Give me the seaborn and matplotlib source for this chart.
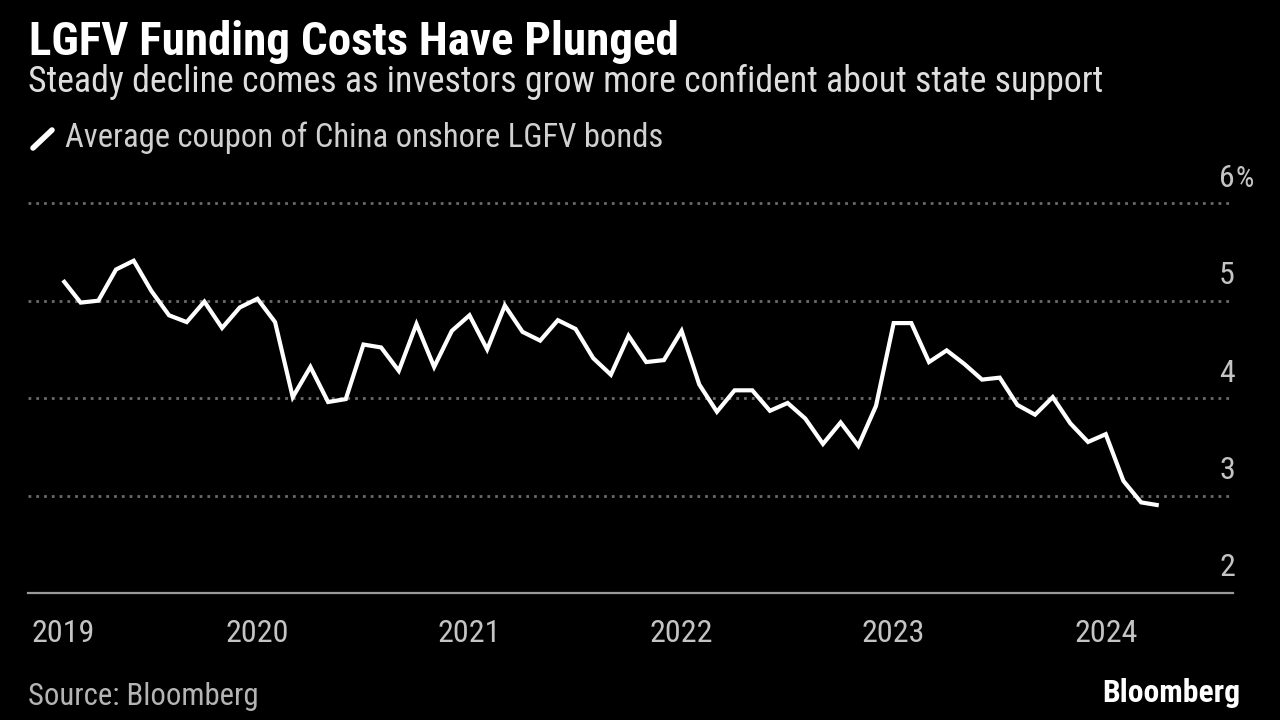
import numpy as np
import pandas as pd
import matplotlib
matplotlib.use("Agg")
import matplotlib.pyplot as plt
import matplotlib.transforms as mtransforms
from matplotlib import font_manager
import seaborn as sns

# ---------------- data ----------------
months = pd.date_range("2019-02-01", periods=63, freq="MS")
coupon = [5.21, 4.98, 5.00, 5.32, 5.41, 5.10, 4.85, 4.78, 4.99, 4.72, 4.93,
          5.02, 4.78, 4.01, 4.32, 3.96, 3.99, 4.55, 4.52, 4.28, 4.76, 4.32, 4.69,
          4.85, 4.50, 4.95, 4.68, 4.59, 4.80, 4.71, 4.41, 4.24, 4.64, 4.37, 4.39, 4.69,
          4.14, 3.86, 4.08, 4.08, 3.87, 3.95, 3.79, 3.53, 3.75, 3.51, 3.92, 4.77,
          4.77, 4.37, 4.49, 4.35, 4.19, 4.21, 3.93, 3.83, 4.01, 3.74, 3.55, 3.63,
          3.15, 2.93, 2.90]
year_labels = ["2019", "2020", "2021", "2022", "2023", "2024"]
y_ticks = [2, 3, 4, 5, 6]
y_tick_labels = ["2", "3", "4", "5", "6"]

title = "LGFV Funding Costs Have Plunged"
subtitle = "Steady decline comes as investors grow more confident about state support"
legend_label = "Average coupon of China onshore LGFV bonds"
source = "Source: Bloomberg"
brand = "Bloomberg"

# ---------------- style ----------------
sns.set_theme(style="dark")
avail = {f.name for f in font_manager.fontManager.ttflist}
narrow = next((f for f in ["Liberation Sans Narrow", "Roboto Condensed",
                           "Open Sans Condensed", "Noto Sans", "Roboto"] if f in avail),
              "DejaVu Sans")
plt.rcParams["font.family"] = [narrow, "DejaVu Sans"]

W, H = 1280, 720
fig = plt.figure(figsize=(W / 100, H / 100), dpi=100, facecolor="black")


def fx(px):
    return px / W


def fy(py):
    return 1 - py / H


ax_left, ax_right, ax_top, ax_bottom = 28, 1233, 174, 593
ax = fig.add_axes([fx(ax_left), fy(ax_bottom), fx(ax_right - ax_left), (ax_bottom - ax_top) / H])
ax.set_facecolor("black")

df = pd.DataFrame({"pos": np.arange(len(coupon)), "coupon": coupon, "month": months})
sns.lineplot(data=df, x="pos", y="coupon", color="white", linewidth=3.0, ax=ax,
             solid_joinstyle="miter", solid_capstyle="butt", zorder=5)

ax.set_xlim(-1.98, 66.2)
ax.set_ylim(2, 6.3)
ax.set_xlabel("")
ax.set_ylabel("")

for s in ["left", "right", "top"]:
    ax.spines[s].set_visible(False)
ax.spines["bottom"].set_color("#9a9a9a")
ax.spines["bottom"].set_linewidth(1.6)
ax.grid(False)

# gridlines
for v in y_ticks[1:]:
    ax.axhline(v, color="#6a6a6a", linewidth=2.0, linestyle=(0, (1, 1.8)), zorder=1)

# x ticks at first point and each January
tick_pos = [0] + [i for i, m in enumerate(months) if m.month == 1]
ax.set_xticks(tick_pos)
ax.set_xticklabels(year_labels)
ax.tick_params(axis="x", colors="#9a9a9a", length=8, width=1.5, direction="out",
               pad=11, labelcolor="#c4c4c4")
ax.set_yticks([])

fig.canvas.draw()
renderer = fig.canvas.get_renderer()


def fit(t, width_px):
    w = t.get_window_extent(renderer).width
    t.set_fontsize(t.get_fontsize() * width_px / w)
    return t


# measure tick size
tmp = fig.text(0, 0, "2019", fontsize=20)
fit(tmp, 63)
tick_fs = tmp.get_fontsize()
tmp.remove()
for lab in ax.get_xticklabels():
    lab.set_fontsize(tick_fs)

# y labels above gridlines, right-aligned
trans = mtransforms.blended_transform_factory(ax.transAxes, ax.transData)
for v, lab in zip(y_ticks, y_tick_labels):
    ax.text(1.0017, v + 0.17, lab, transform=trans, ha="right", va="baseline",
            color="#c4c4c4", fontsize=tick_fs, clip_on=False)
ax.text(1.0017, y_ticks[-1] + 0.17, "%", transform=trans, ha="left", va="baseline",
        color="#c4c4c4", fontsize=tick_fs * 0.9, clip_on=False)

# texts
t = fig.text(fx(29), fy(55), title, color="white", fontsize=24, fontweight="bold",
             ha="left", va="baseline")
fit(t, 652)
t = fig.text(fx(28), fy(92), subtitle, color="#dedede", fontsize=20,
             ha="left", va="baseline")
fit(t, 1074)
t = fig.text(fx(65), fy(147), legend_label, color="#d0d0d0", fontsize=20,
             ha="left", va="baseline")
fit(t, 597)
fig.add_artist(plt.Line2D([fx(33), fx(52)], [fy(148), fy(130)], color="white",
                          linewidth=4.0, solid_capstyle="round"))
t = fig.text(fx(28), fy(705), source, color="#b4b4b4", fontsize=18,
             ha="left", va="baseline")
fit(t, 230)
t = fig.text(fx(1240), fy(702), brand, color="white", fontsize=18, fontweight="bold",
             ha="right", va="baseline")
fit(t, 138)

fig.savefig("out.png", dpi=100, facecolor="black")
